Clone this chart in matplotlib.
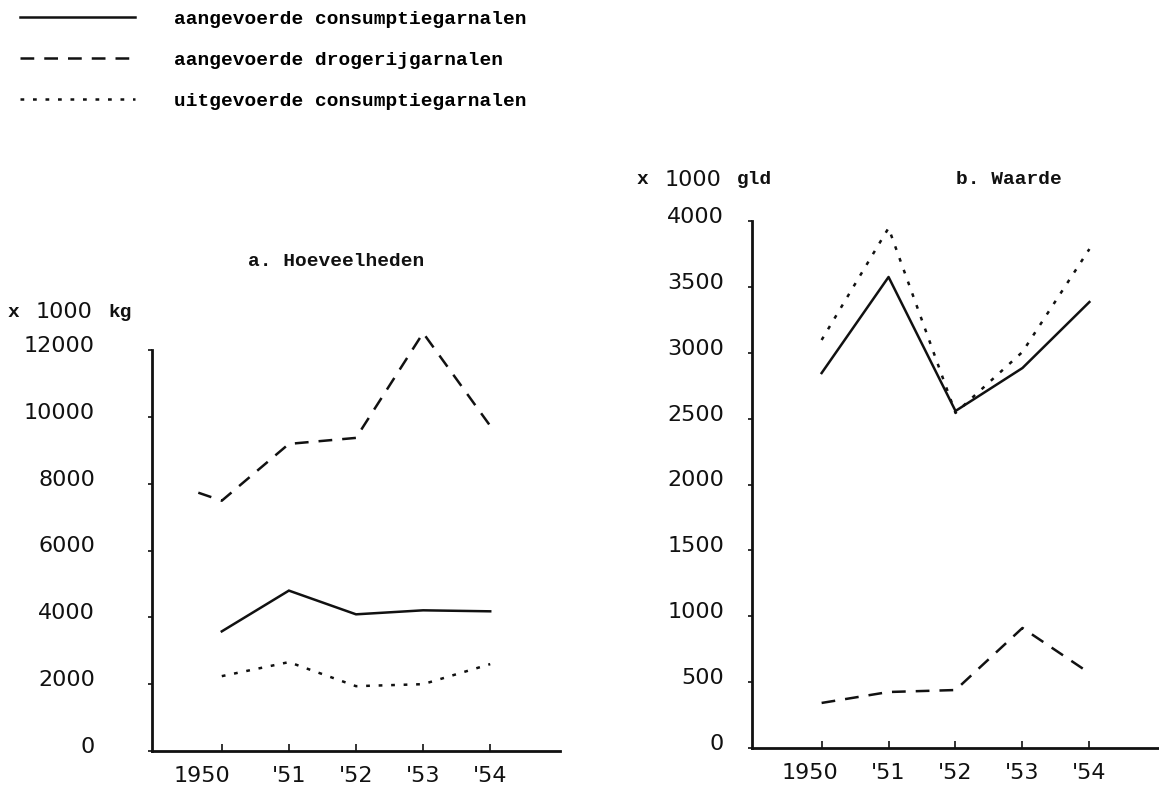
import matplotlib
matplotlib.use("Agg")
import matplotlib.pyplot as plt
from matplotlib.transforms import ScaledTranslation

# jaren en waarden
years = [1950, 1951, 1952, 1953, 1954]
year_labels = ["1950", "'51", "'52", "'53", "'54"]

# a. Hoeveelheden (x 1000 kg)
kg_cons_aanvoer = [3580, 4800, 4090, 4210, 4180]
kg_drog_years = [1949.65, 1950, 1951, 1952, 1953, 1954]
kg_drog_aanvoer = [7730, 7490, 9190, 9370, 12510, 9730]
kg_cons_uitvoer = [2240, 2660, 1940, 2000, 2600]
kg_ticks = [0, 2000, 4000, 6000, 8000, 10000, 12000]

# b. Waarde (x 1000 gld)
gld_cons_aanvoer = [2846, 3575, 2558, 2884, 3385]
gld_drog_aanvoer = [342, 425, 440, 911, 569]
gld_cons_uitvoer = [3097, 3947, 2543, 3006, 3787]
gld_ticks = [0, 500, 1000, 1500, 2000, 2500, 3000, 3500, 4000]

legend_labels = ["aangevoerde consumptiegarnalen",
                 "aangevoerde drogerijgarnalen",
                 "uitgevoerde consumptiegarnalen"]

INK = "#111111"
MONO = "Liberation Mono"
SANS = "DejaVu Sans"
LW = 1.8
DASH = (5.5, 4)
DOT = (1.5, 3.5)

W, H = 1159, 789
fig = plt.figure(figsize=(W / 100, H / 100), dpi=100)


def style_axis(ax, ymax, yticks, label_pad, first_shift):
    for s in ["top", "right"]:
        ax.spines[s].set_visible(False)
    for s in ["left", "bottom"]:
        ax.spines[s].set_linewidth(2.0)
        ax.spines[s].set_color(INK)
    ax.set_xlim(1948.96, 1955.04)
    ax.set_ylim(0, ymax)
    ax.set_xticks(years)
    ax.set_xticklabels(year_labels)
    ax.set_yticks(yticks)
    ax.set_yticklabels([str(t) for t in yticks])
    ax.tick_params(axis="x", direction="in", length=5, width=1.2, pad=11,
                   labelsize=16, colors=INK)
    ax.tick_params(axis="y", direction="out", length=3, width=1.2, pad=label_pad,
                   labelsize=16, colors=INK)
    for lbl in ax.get_xticklabels() + ax.get_yticklabels():
        lbl.set_family(SANS)
    # de getallen staan in de scan iets boven de streepjes
    up = ScaledTranslation(0, 6 / 100, fig.dpi_scale_trans)
    for lbl in ax.get_yticklabels():
        lbl.set_transform(lbl.get_transform() + up)
    first = ax.get_xticklabels()[0]
    first.set_transform(first.get_transform()
                        + ScaledTranslation(first_shift / 100, 0, fig.dpi_scale_trans))


def unit_label(x_px, y_px, unit):
    # "x" en eenheid in typemachineletter, "1000" zoals de asgetallen
    y = 1 - y_px / H
    fig.text(x_px / W, y, "x", family=MONO, weight="bold", fontsize=14,
             color=INK, ha="left", va="center")
    fig.text((x_px + 28) / W, y, "1000", family=SANS, fontsize=16,
             color=INK, ha="left", va="center")
    fig.text((x_px + 100) / W, y, unit, family=MONO, weight="bold", fontsize=14,
             color=INK, ha="left", va="center")


# a. Hoeveelheden
ax_a = fig.add_axes([152 / W, 1 - 751 / H, 408 / W, 401 / H])
l1, = ax_a.plot(years, kg_cons_aanvoer, color=INK, lw=LW, solid_joinstyle="miter",
                clip_on=False, label=legend_labels[0])
l2, = ax_a.plot(kg_drog_years, kg_drog_aanvoer, color=INK, lw=LW, dashes=DASH,
                clip_on=False, label=legend_labels[1])
l3, = ax_a.plot(years, kg_cons_uitvoer, color=INK, lw=LW, dashes=DOT,
                clip_on=False, label=legend_labels[2])
style_axis(ax_a, 12000, kg_ticks, 38, -20)

# b. Waarde
ax_b = fig.add_axes([752 / W, 1 - 748 / H, 407 / W, 527 / H])
ax_b.plot(years, gld_cons_aanvoer, color=INK, lw=LW, clip_on=False)
ax_b.plot(years, gld_drog_aanvoer, color=INK, lw=LW, dashes=DASH, clip_on=False)
ax_b.plot(years, gld_cons_uitvoer, color=INK, lw=LW, dashes=DOT, clip_on=False)
style_axis(ax_b, 4000, gld_ticks, 17, -12)

# titels en eenheden
fig.text(336 / W, 1 - 262 / H, "a. Hoeveelheden", family=MONO, weight="bold",
         fontsize=14, color=INK, ha="center", va="center")
fig.text(1009 / W, 1 - 180 / H, "b. Waarde", family=MONO, weight="bold",
         fontsize=14, color=INK, ha="center", va="center")
unit_label(8, 312, "kg")
unit_label(637, 180, "gld")

# legenda linksboven
fig.legend(handles=[l1, l2, l3], loc="upper left", bbox_to_anchor=(20 / W, 1 - 10 / H),
           frameon=False, borderpad=0, borderaxespad=0, handlelength=5.9,
           handletextpad=2.0, labelspacing=1.2,
           prop={"family": MONO, "size": 14, "weight": "bold"})

fig.savefig("out.png", dpi=100)
